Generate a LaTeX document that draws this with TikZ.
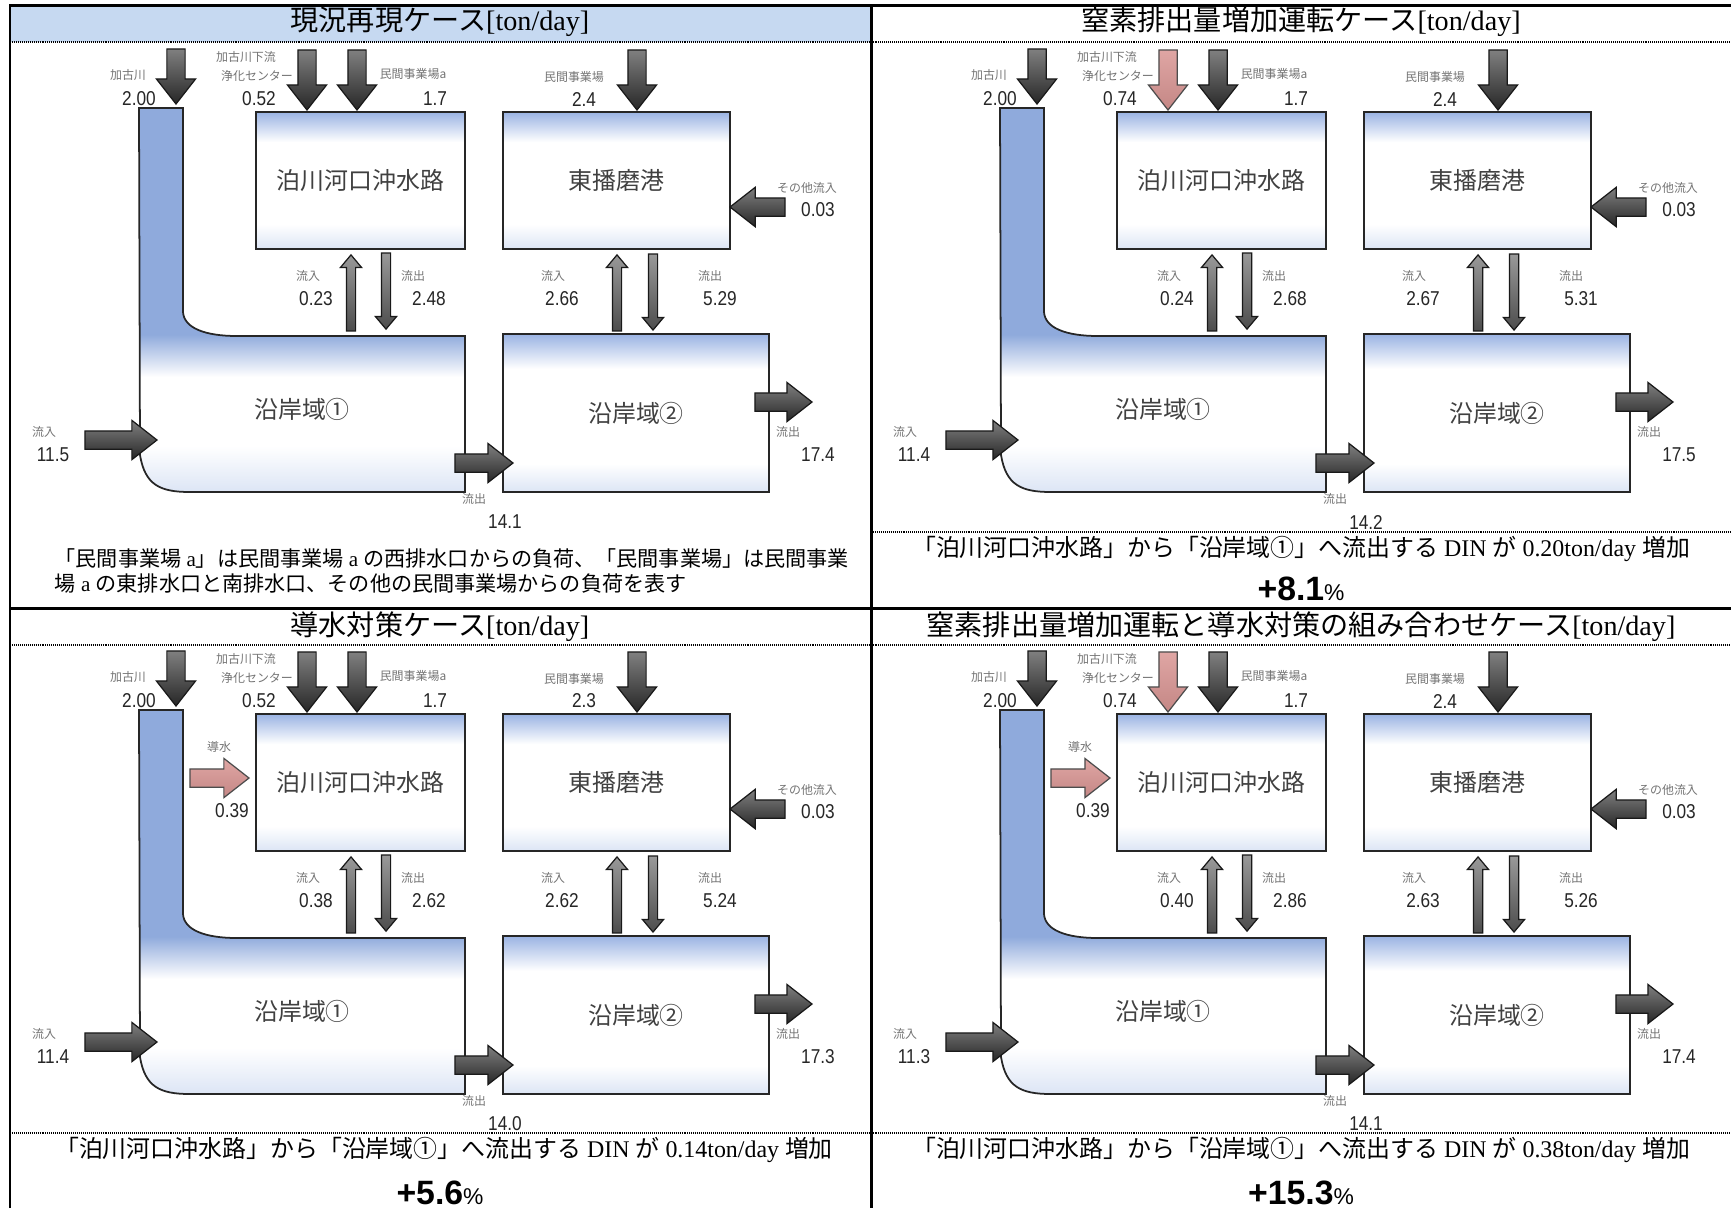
\documentclass[tikz,border=0pt]{standalone}
\usepackage{fontspec}
\setmainfont{Liberation Serif}
\newfontfamily\jpfont{Noto Sans CJK JP}
\newfontfamily\numfont{Liberation Sans}[FakeStretch=0.86]
\newfontfamily\pctfont{Liberation Sans}
\usetikzlibrary{%
    shapes.arrows,
    calc,
}
\definecolor{bandblue}{HTML}{C6D9F1}
\definecolor{chanblue}{HTML}{8FAADC}
\definecolor{zonetop}{HTML}{9AB3E3}
\definecolor{zonebot}{HTML}{DCE5F5}
\definecolor{divpink}{HTML}{DA9694}
\pgfdeclareverticalshading{coastshade}{100bp}{color(0bp)=(zonebot); color(25bp)=(zonebot);
  color(31bp)=(white); color(40bp)=(white); color(45.5bp)=(chanblue); color(100bp)=(chanblue)}
\pgfdeclareverticalshading{boxshade}{100bp}{color(0bp)=(zonebot); color(25bp)=(zonebot);
  color(34bp)=(white); color(64bp)=(white); color(75bp)=(zonetop); color(100bp)=(zonetop)}
\newcommand{\jtxt}[1]{{\jpfont #1}}
\tikzset{%
    every node/.style = {inner sep=0pt},
    coast/.style = {
        draw=black!85,
        line width=0.5pt,
        shading=coastshade,
    },
    zonebox/.style = {
        draw=black!85,
        line width=0.5pt,
        shade,
        shading=boxshade,
        font=\jpfont\fontsize{6.8}{8}\selectfont,
        text=black!75,
    },
    zname/.style = {
        font=\jpfont\fontsize{6.8}{8}\selectfont,
        text=black!75,
    },
    load/.style = {
        single arrow,
        draw=black!90,
        line width=0.35pt,
        inner xsep=0pt,
        inner ysep=0.85mm,
        minimum width=3.8mm,
        single arrow head extend=1.05mm,
        single arrow tip angle=76,
        top color=black!50,
        bottom color=black!85,
    },
    pinkload/.style = {
        load,
        draw=black!70,
        top color=divpink!85,
        bottom color=divpink!90!black,
    },
    exch/.style = {
        single arrow,
        draw=black!90,
        line width=0.35pt,
        inner xsep=0pt,
        inner ysep=0.4mm,
        minimum width=2mm,
        minimum height=7.6mm,
        single arrow head extend=0.6mm,
        single arrow tip angle=80,
        top color=black!40,
        bottom color=black!70,
    },
    lbl/.style = {
        font=\jpfont\fontsize{3.4}{4}\selectfont,
        text=black!55,
    },
    val/.style = {
        font=\numfont\fontsize{5.7}{6.5}\selectfont,
        text=black!85,
    },
    ttl/.style = {
        font=\fontsize{8}{9.6}\selectfont,
    },
    note/.style = {
        font=\fontsize{6.8}{8}\selectfont,
    },
    pct/.style = {
        font=\pctfont\bfseries\fontsize{9.6}{11}\selectfont,
    },
    tablerule/.style = {line width=0.85pt},
    dotrule/.style = {line width=0.55pt, dash pattern=on 0.28pt off 0.28pt},
}
% one case: river channel, four water bodies, loads and exchanges
\newcommand{\flowpanel}[1]{%
    \shadedraw[coast] (139,108) -- (183,108) -- (183,312)
        .. controls (184,328) and (205,336) .. (237,336)
        -- (465,336) -- (465,492) -- (190,492)
        .. controls (160,492) and (145,485) .. (140,455) -- cycle;
    \node[zname] (#1c1) at (302,409) {沿岸域①};
    \node[zonebox, minimum width=20.9mm, minimum height=13.7mm] (#1tomari) at (360.5,180.5) {泊川河口沖水路};
    \node[zonebox, minimum width=22.7mm, minimum height=13.7mm] (#1port) at (616.5,180.5) {東播磨港};
    \node[zonebox, minimum width=26.6mm, minimum height=15.8mm] (#1c2) at (636,413) {沿岸域②};
    % loads
    \node[load, rotate=-90, anchor=tip, minimum height=5.5mm] (#1kako) at (176,105) {};
    \node[sewage, rotate=-90, anchor=tip, minimum height=6mm] (#1sew) at (307,111) {};
    \node[load, rotate=-90, anchor=tip, minimum height=6mm] (#1facta) at (357,111) {};
    \node[load, rotate=-90, anchor=tip, minimum height=6mm] (#1fact) at (637,111) {};
    \node[load, rotate=180, anchor=tip, minimum height=5.5mm] (#1other) at (729,207) {};
    \node[load, anchor=tip, minimum height=7.2mm] (#1sea) at (158,440) {};
    \node[load, anchor=tip, minimum height=5.8mm] (#1mid) at (514,463) {};
    \node[load, anchor=tip, minimum height=5.7mm] (#1out) at (813,402) {};
    % exchanges
    \node[exch, rotate=90, anchor=tip] (#1ina) at ($(#1tomari.south)+(-9.5,4)$) {};
    \node[exch, rotate=-90, anchor=tip] (#1outa) at ($(#1c1.center |- #1c2.north)+(84,-3)$) {};
    \node[exch, rotate=90, anchor=tip] (#1inb) at ($(#1port.south)+(0.5,4)$) {};
    \node[exch, rotate=-90, anchor=tip] (#1outb) at (653,331) {};
    % labels
    \node[lbl] at (128,75) {加古川};
    \node[val] at (139,99) {2.00};
    \node[lbl] at (246,57) {加古川下流};
    \node[lbl] at (257,76) {浄化センター};
    \node[val] at (259,99) {\vSew};
    \node[lbl] at (413,74) {民間事業場a};
    \node[val] at (435,99) {1.7};
    \node[lbl] at (574,77) {民間事業場};
    \node[val] at (584,99) {\vFact};
    \node[lbl] at (807,188) {その他流入};
    \node[val] at (818,210) {0.03};
    \node[lbl] at (308,276) {流入};
    \node[val] at (316,299) {\vInA};
    \node[lbl] at (413,276) {流出};
    \node[val] at (429,299) {\vOutA};
    \node[lbl] at (553,276) {流入};
    \node[val] at (562,299) {\vInB};
    \node[lbl] at (710,276) {流出};
    \node[val] at (720,299) {\vOutB};
    \node[lbl] at (44,432) {流入};
    \node[val] at (53,455) {\vSea};
    \node[lbl] at (474,499) {流出};
    \node[val] at (505,522) {\vMid};
    \node[lbl] at (788,432) {流出};
    \node[val] at (818,455) {\vOut};
}
\newcommand{\divertflow}[1]{%
    \node[pinkload, anchor=tip, minimum height=5.9mm] (#1div) at (250,176) {};
    \node[lbl] at (219,145) {導水};
    \node[val] at (232,209) {0.39};
}

\begin{document}
\begin{tikzpicture}[x=0.01cm, y=-0.01cm]
    \useasboundingbox (0,0) rectangle (1731,1208);
    \fill[bandblue] (10,5) rectangle (871,42);

    \begin{scope}
        \tikzset{sewage/.style={load}}
        \def\vSew{0.52}\def\vFact{2.4}\def\vInA{0.23}\def\vOutA{2.48}
        \def\vInB{2.66}\def\vOutB{5.29}\def\vSea{11.5}\def\vMid{14.1}\def\vOut{17.4}
        \flowpanel{tl}
    \end{scope}
    \begin{scope}[shift={(861,0)}]
        \tikzset{sewage/.style={pinkload}}
        \def\vSew{0.74}\def\vFact{2.4}\def\vInA{0.24}\def\vOutA{2.68}
        \def\vInB{2.67}\def\vOutB{5.31}\def\vSea{11.4}\def\vMid{14.2}\def\vOut{17.5}
        \flowpanel{tr}
    \end{scope}
    \begin{scope}[shift={(0,602)}]
        \tikzset{sewage/.style={load}}
        \def\vSew{0.52}\def\vFact{2.3}\def\vInA{0.38}\def\vOutA{2.62}
        \def\vInB{2.62}\def\vOutB{5.24}\def\vSea{11.4}\def\vMid{14.0}\def\vOut{17.3}
        \flowpanel{bl}
        \divertflow{bl}
    \end{scope}
    \begin{scope}[shift={(861,602)}]
        \tikzset{sewage/.style={pinkload}}
        \def\vSew{0.74}\def\vFact{2.4}\def\vInA{0.40}\def\vOutA{2.86}
        \def\vInB{2.63}\def\vOutB{5.26}\def\vSea{11.3}\def\vMid{14.1}\def\vOut{17.4}
        \flowpanel{br}
        \divertflow{br}
    \end{scope}

    % table rules
    \draw[tablerule] (10,1208) -- (10,5) -- (1731,5);
    \draw[tablerule] (871,5) -- (871,1208);
    \draw[tablerule] (10,608) -- (1731,608);
    \draw[dotrule] (10,42) -- (1731,42);
    \draw[dotrule] (871,532) -- (1731,532);
    \draw[dotrule] (10,645) -- (1731,645);
    \draw[dotrule] (10,1133) -- (1731,1133);

    % titles
    \node[ttl] (tltitle) at (440,22) {\jtxt{現況再現ケース}[ton/day]};
    \node[ttl] (trtitle) at (1301,22) {\jtxt{窒素排出量増加運転ケース}[ton/day]};
    \node[ttl] (bltitle) at (440,627) {\jtxt{導水対策ケース}[ton/day]};
    \node[ttl] (brtitle) at (1301,627) {\jtxt{窒素排出量増加運転と導水対策の組み合わせケース}[ton/day]};

    % notes
    \node[note, font=\fontsize{6}{7.1}\selectfont, anchor=north west, align=left] (tlnote) at (54,548)
        {\jtxt{「民間事業場} a\jtxt{」は民間事業場} a \jtxt{の西排水口からの負荷、「民間事業場」は民間事業}\\
         \jtxt{場} a \jtxt{の東排水口と南排水口、その他の民間事業場からの負荷を表す}};
    \node[note] (trnote) at (1301,549)
        {\jtxt{「泊川河口沖水路」から「沿岸域①」へ流出する} DIN \jtxt{が} 0.20ton/day \jtxt{増加}};
    \node[pct] (trpct) at (1301,589) {+8.1{\mdseries\fontsize{6.5}{7}\selectfont\%}};
    \node[note] (blnote) at (444,1150)
        {\jtxt{「泊川河口沖水路」から「沿岸域①」へ流出する} DIN \jtxt{が} 0.14ton/day \jtxt{増加}};
    \node[pct] (blpct) at (440,1193) {+5.6{\mdseries\fontsize{6.5}{7}\selectfont\%}};
    \node[note] (brnote) at (1301,1150)
        {\jtxt{「泊川河口沖水路」から「沿岸域①」へ流出する} DIN \jtxt{が} 0.38ton/day \jtxt{増加}};
    \node[pct] (brpct) at (1301,1193) {+15.3{\mdseries\fontsize{6.5}{7}\selectfont\%}};
\end{tikzpicture}
\end{document}
